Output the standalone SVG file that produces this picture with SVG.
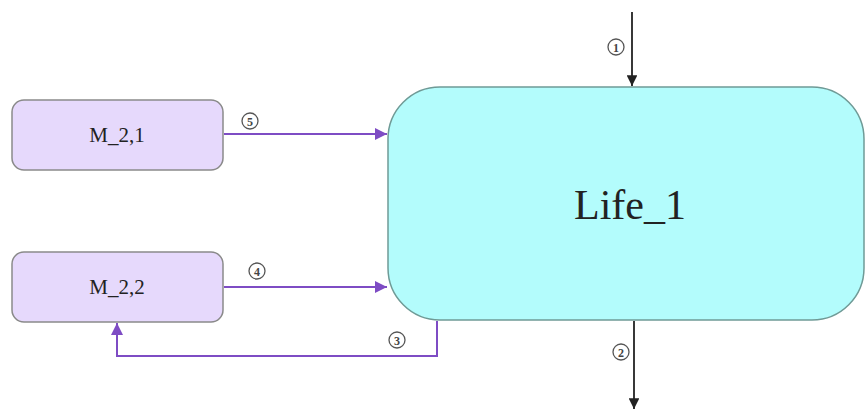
<svg xmlns="http://www.w3.org/2000/svg" width="865" height="414" viewBox="0 0 865 414">
<style>
.m{fill:#e6d9fc;stroke:#8a8a8a;stroke-width:1.5}
.life{fill:#b3fcfc;stroke:#6f9a96;stroke-width:1.5}
.t{font-family:"Liberation Serif",serif;fill:#222;text-anchor:middle}
.p{stroke:#7e4cc4;stroke-width:2;fill:none}
.k{stroke:#222;stroke-width:1.8;fill:none}
.lc{fill:#fff;stroke:#555;stroke-width:1.3}
.lt{font-family:"Liberation Serif",serif;font-size:12px;font-weight:bold;fill:#444;text-anchor:middle}
</style>
<defs>
<marker id="ap" viewBox="0 0 10 10" refX="10" refY="5" markerWidth="6" markerHeight="6" orient="auto"><path d="M0,0 L10,5 L0,10 z" fill="#7e4cc4"/></marker>
<marker id="ak" viewBox="0 0 10 10" refX="10" refY="5" markerWidth="6" markerHeight="6" orient="auto"><path d="M0,0 L10,5 L0,10 z" fill="#222"/></marker>
</defs>
<g id="connectors">
<line class="k" x1="632" y1="12" x2="632" y2="86" marker-end="url(#ak)"/>
<line class="k" x1="634" y1="321" x2="634" y2="409" marker-end="url(#ak)"/>
<line class="p" x1="224" y1="134" x2="387" y2="134" marker-end="url(#ap)"/>
<line class="p" x1="224" y1="287" x2="387" y2="287" marker-end="url(#ap)"/>
<polyline class="p" points="437,321 437,356 117,356 117,323" marker-end="url(#ap)"/>
<g><circle class="lc" cx="616" cy="47" r="8"/><text class="lt" x="616" y="51.5">1</text></g>
<g><circle class="lc" cx="621" cy="352" r="8"/><text class="lt" x="621" y="356.5">2</text></g>
<g><circle class="lc" cx="397" cy="340" r="8"/><text class="lt" x="397" y="344.5">3</text></g>
<g><circle class="lc" cx="257" cy="271" r="8"/><text class="lt" x="257" y="275.5">4</text></g>
<g><circle class="lc" cx="250" cy="121" r="8"/><text class="lt" x="250" y="125.5">5</text></g>
</g>
<g id="m21">
<rect class="m" x="12" y="100" width="211" height="70" rx="12"/>
<text class="t" x="117" y="142" font-size="21">M_2,1</text>
</g>
<g id="m22">
<rect class="m" x="12" y="252" width="211" height="70" rx="12"/>
<text class="t" x="117" y="294" font-size="21">M_2,2</text>
</g>
<g id="life1">
<rect class="life" x="388" y="87" width="476" height="233" rx="52"/>
<text class="t" x="630" y="219" font-size="42">Life_1</text>
</g>
</svg>
